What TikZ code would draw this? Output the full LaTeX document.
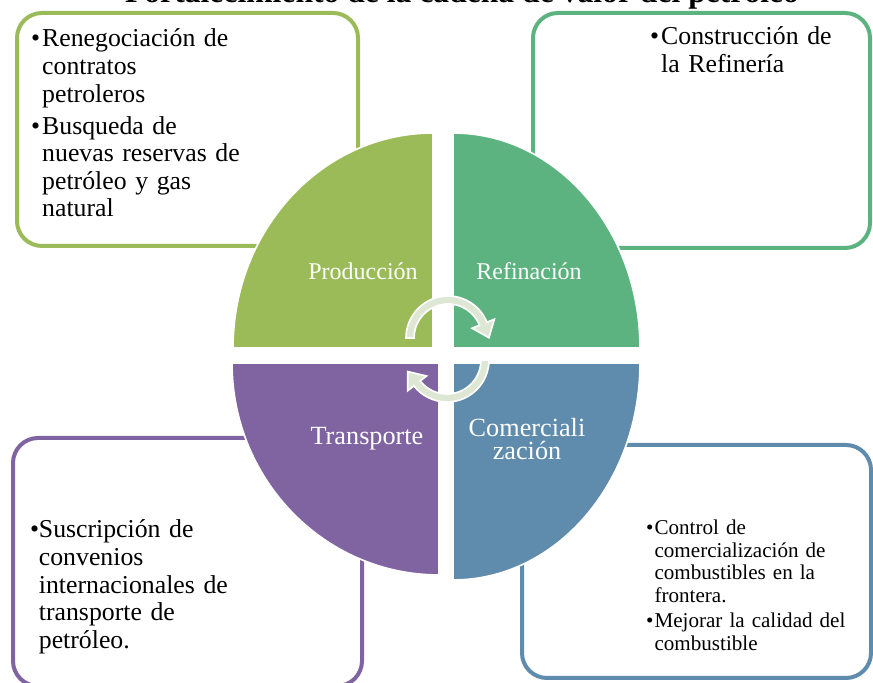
\documentclass[tikz,border=0pt]{standalone}
\usepackage{fontspec}
\setmainfont{Liberation Serif}

\definecolor{ProdOlive}{HTML}{9BBB59}
\definecolor{RefiGreen}{HTML}{5CB37F}
\definecolor{ComBlue}{HTML}{5F8BAC}
\definecolor{TransPurple}{HTML}{8064A2}
\definecolor{TurnTint}{HTML}{DDE7D3}

\newcommand{\bul}[2][0.33cm]{\hangindent=#1\hangafter=1\noindent\makebox[#1][l]{\textbullet}#2\par}

\tikzset{
    panel/.style={line width=0.12cm, rounded corners=0.75cm},
    quarter/.style={draw=white, line width=0.05cm},
    stage/.style={text=white, inner sep=0, anchor=base, align=center, font=\fontsize{22.4}{23}\selectfont},
    notes/.style={inner sep=0, anchor=base west, align=left, text width=8cm, font=\fontsize{22}{23.5}\selectfont},
    turn/.style={fill=TurnTint, draw=white, line width=0.05cm},
}

\begin{document}
\begin{tikzpicture}[x=0.03cm, y=0.03cm]
    \useasboundingbox (0,0) rectangle (873,683);
    \clip (0,0) rectangle (873,683);

    \node[anchor=base, inner sep=0, font=\fontsize{27}{30}\selectfont\bfseries] (title) at (462,680) {Fortalecimiento de la cadena de valor del petróleo};

    \draw[panel, ProdOlive] (17,670) rectangle (358,437);
    \draw[panel, RefiGreen] (533,670) rectangle (870,435);
    \draw[panel, TransPurple] (13,245) rectangle (362,-3);
    \draw[panel, ComBlue] (522,238) rectangle (871,5);

    \filldraw[quarter, fill=ProdOlive] (433,335) -- (233,335) arc[start angle=180, end angle=90, x radius=200, y radius=215] -- cycle;
    \filldraw[quarter, fill=RefiGreen] (453,335) -- (453,550) arc[start angle=90, end angle=0, x radius=187, y radius=215] -- cycle;
    \filldraw[quarter, fill=TransPurple] (439,320) -- (232,320) arc[start angle=180, end angle=270, x radius=207, y radius=212] -- cycle;
    \filldraw[quarter, fill=ComBlue] (453,320) -- (640,320) arc[start angle=0, end angle=-90, x radius=187, y radius=217] -- cycle;

    \coordinate (ctop) at (448,345);
    \coordinate (cbot) at (447,323);
    \filldraw[turn] ([shift={(180:42)}]ctop) arc[start angle=180, end angle=22, radius=42]
        -- ([shift={(22:50)}]ctop) -- ([shift={(40.9,0.3)}]ctop) -- ([shift={(22:26)}]ctop)
        -- ([shift={(22:34)}]ctop) arc[start angle=22, end angle=180, radius=34] -- cycle;
    \filldraw[turn] ([shift={(0:42)}]cbot) arc[start angle=0, end angle=-142, radius=42]
        -- ([shift={(-142:50)}]cbot) -- ([shift={(-39.2,-11.6)}]cbot) -- ([shift={(-142:26)}]cbot)
        -- ([shift={(-142:34)}]cbot) arc[start angle=-142, end angle=0, radius=34] -- cycle;

    \node[stage, font=\fontsize{20.5}{22}\selectfont] (prod) at (363,403) {Producción};
    \node[stage, font=\fontsize{20.5}{22}\selectfont] (refi) at (529,403) {Refinación};
    \node[stage] (trans) at (367,238) {Transporte};
    \node[stage, font=\fontsize{22.4}{20.3}\selectfont] (com) at (527,223) {Comerciali\\zación};

    \node[notes] (prodnotes) at (31,636) {\bul{Renegociación de\newline contratos\newline petroleros}\vspace{4pt}\bul{Busqueda de\newline nuevas reservas de\newline petróleo y gas\newline natural}};
    \node[notes] (refinotes) at (650,638) {\bul{Construcción de\newline la Refinería}};
    \node[notes] (transnotes) at (30,145) {\bul[0.26cm]{Suscripción de\newline convenios\newline internacionales de\newline transporte de\newline petróleo.}};
    \node[notes, font=\fontsize{18}{19.2}\selectfont] (comnotes) at (646,148) {\bul[0.25cm]{Control de\newline comercialización de\newline combustibles en la\newline frontera.}\vspace{2.5pt}\bul[0.25cm]{Mejorar la calidad del\newline combustible}};
\end{tikzpicture}
\end{document}
